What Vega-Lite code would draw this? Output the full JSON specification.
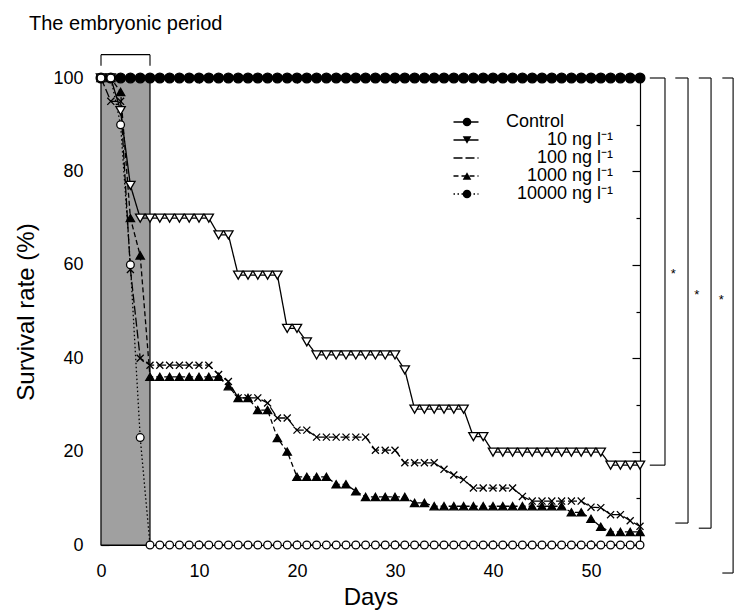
{
"$schema": "https://vega.github.io/schema/vega-lite/v6.json",
"width": 539, "height": 467,
"autosize": {"type": "none"},
"padding": {"left": 101, "top": 78, "right": 98, "bottom": 71},
"background": "white",
"title": {"text": "The embryonic period", "anchor": "start", "frame": "group", "dx": -72, "offset": 20, "fontSize": 20, "font": "Liberation Sans", "fontWeight": "normal", "color": "black"},
"config": {
  "view": {"stroke": null},
  "font": "Liberation Sans",
  "axis": {"grid": false, "domainColor": "black", "tickColor": "black", "labelColor": "black", "titleColor": "black", "labelFont": "Liberation Sans", "titleFont": "Liberation Sans", "titleFontWeight": "normal", "domainWidth": 1.2, "tickWidth": 1.2, "labelFlush": false},
  "legend": {"padding": 0, "rowPadding": 0, "labelFont": "Liberation Sans", "labelFontSize": 18, "labelColor": "black", "symbolOpacity": 1}
},
"datasets": {
"survival": [
{"day":0,"pct":100,"series":"Control"},{"day":1,"pct":100,"series":"Control"},{"day":2,"pct":100,"series":"Control"},{"day":3,"pct":100,"series":"Control"},{"day":4,"pct":100,"series":"Control"},{"day":5,"pct":100,"series":"Control"},{"day":6,"pct":100,"series":"Control"},{"day":7,"pct":100,"series":"Control"},{"day":8,"pct":100,"series":"Control"},{"day":9,"pct":100,"series":"Control"},{"day":10,"pct":100,"series":"Control"},{"day":11,"pct":100,"series":"Control"},{"day":12,"pct":100,"series":"Control"},{"day":13,"pct":100,"series":"Control"},{"day":14,"pct":100,"series":"Control"},{"day":15,"pct":100,"series":"Control"},{"day":16,"pct":100,"series":"Control"},{"day":17,"pct":100,"series":"Control"},{"day":18,"pct":100,"series":"Control"},{"day":19,"pct":100,"series":"Control"},{"day":20,"pct":100,"series":"Control"},{"day":21,"pct":100,"series":"Control"},{"day":22,"pct":100,"series":"Control"},{"day":23,"pct":100,"series":"Control"},{"day":24,"pct":100,"series":"Control"},{"day":25,"pct":100,"series":"Control"},{"day":26,"pct":100,"series":"Control"},{"day":27,"pct":100,"series":"Control"},{"day":28,"pct":100,"series":"Control"},{"day":29,"pct":100,"series":"Control"},{"day":30,"pct":100,"series":"Control"},{"day":31,"pct":100,"series":"Control"},{"day":32,"pct":100,"series":"Control"},{"day":33,"pct":100,"series":"Control"},{"day":34,"pct":100,"series":"Control"},{"day":35,"pct":100,"series":"Control"},{"day":36,"pct":100,"series":"Control"},{"day":37,"pct":100,"series":"Control"},{"day":38,"pct":100,"series":"Control"},{"day":39,"pct":100,"series":"Control"},{"day":40,"pct":100,"series":"Control"},{"day":41,"pct":100,"series":"Control"},{"day":42,"pct":100,"series":"Control"},{"day":43,"pct":100,"series":"Control"},{"day":44,"pct":100,"series":"Control"},{"day":45,"pct":100,"series":"Control"},{"day":46,"pct":100,"series":"Control"},{"day":47,"pct":100,"series":"Control"},{"day":48,"pct":100,"series":"Control"},{"day":49,"pct":100,"series":"Control"},{"day":50,"pct":100,"series":"Control"},{"day":51,"pct":100,"series":"Control"},{"day":52,"pct":100,"series":"Control"},{"day":53,"pct":100,"series":"Control"},{"day":54,"pct":100,"series":"Control"},{"day":55,"pct":100,"series":"Control"},
{"day":0,"pct":100,"series":"10 ng l⁻¹"},{"day":1,"pct":100,"series":"10 ng l⁻¹"},{"day":2,"pct":93,"series":"10 ng l⁻¹"},{"day":3,"pct":77,"series":"10 ng l⁻¹"},{"day":4,"pct":70,"series":"10 ng l⁻¹"},{"day":5,"pct":70,"series":"10 ng l⁻¹"},{"day":6,"pct":70,"series":"10 ng l⁻¹"},{"day":7,"pct":70,"series":"10 ng l⁻¹"},{"day":8,"pct":70,"series":"10 ng l⁻¹"},{"day":9,"pct":70,"series":"10 ng l⁻¹"},{"day":10,"pct":70,"series":"10 ng l⁻¹"},{"day":11,"pct":70,"series":"10 ng l⁻¹"},{"day":12,"pct":66.4,"series":"10 ng l⁻¹"},{"day":13,"pct":66.4,"series":"10 ng l⁻¹"},{"day":14,"pct":57.8,"series":"10 ng l⁻¹"},{"day":15,"pct":57.8,"series":"10 ng l⁻¹"},{"day":16,"pct":57.8,"series":"10 ng l⁻¹"},{"day":17,"pct":57.8,"series":"10 ng l⁻¹"},{"day":18,"pct":57.8,"series":"10 ng l⁻¹"},{"day":19,"pct":46.4,"series":"10 ng l⁻¹"},{"day":20,"pct":46.4,"series":"10 ng l⁻¹"},{"day":21,"pct":43.5,"series":"10 ng l⁻¹"},{"day":22,"pct":40.7,"series":"10 ng l⁻¹"},{"day":23,"pct":40.7,"series":"10 ng l⁻¹"},{"day":24,"pct":40.7,"series":"10 ng l⁻¹"},{"day":25,"pct":40.7,"series":"10 ng l⁻¹"},{"day":26,"pct":40.7,"series":"10 ng l⁻¹"},{"day":27,"pct":40.7,"series":"10 ng l⁻¹"},{"day":28,"pct":40.7,"series":"10 ng l⁻¹"},{"day":29,"pct":40.7,"series":"10 ng l⁻¹"},{"day":30,"pct":40.7,"series":"10 ng l⁻¹"},{"day":31,"pct":37.5,"series":"10 ng l⁻¹"},{"day":32,"pct":29.1,"series":"10 ng l⁻¹"},{"day":33,"pct":29.1,"series":"10 ng l⁻¹"},{"day":34,"pct":29.1,"series":"10 ng l⁻¹"},{"day":35,"pct":29.1,"series":"10 ng l⁻¹"},{"day":36,"pct":29.1,"series":"10 ng l⁻¹"},{"day":37,"pct":29.1,"series":"10 ng l⁻¹"},{"day":38,"pct":23.2,"series":"10 ng l⁻¹"},{"day":39,"pct":23.2,"series":"10 ng l⁻¹"},{"day":40,"pct":19.9,"series":"10 ng l⁻¹"},{"day":41,"pct":19.9,"series":"10 ng l⁻¹"},{"day":42,"pct":19.9,"series":"10 ng l⁻¹"},{"day":43,"pct":19.9,"series":"10 ng l⁻¹"},{"day":44,"pct":19.9,"series":"10 ng l⁻¹"},{"day":45,"pct":19.9,"series":"10 ng l⁻¹"},{"day":46,"pct":19.9,"series":"10 ng l⁻¹"},{"day":47,"pct":19.9,"series":"10 ng l⁻¹"},{"day":48,"pct":19.9,"series":"10 ng l⁻¹"},{"day":49,"pct":19.9,"series":"10 ng l⁻¹"},{"day":50,"pct":19.9,"series":"10 ng l⁻¹"},{"day":51,"pct":19.9,"series":"10 ng l⁻¹"},{"day":52,"pct":17.1,"series":"10 ng l⁻¹"},{"day":53,"pct":17.1,"series":"10 ng l⁻¹"},{"day":54,"pct":17.1,"series":"10 ng l⁻¹"},{"day":55,"pct":17.1,"series":"10 ng l⁻¹"},
{"day":0,"pct":100,"series":"100 ng l⁻¹"},{"day":1,"pct":95,"series":"100 ng l⁻¹"},{"day":2,"pct":95,"series":"100 ng l⁻¹"},{"day":3,"pct":59,"series":"100 ng l⁻¹"},{"day":4,"pct":40,"series":"100 ng l⁻¹"},{"day":5,"pct":38.5,"series":"100 ng l⁻¹"},{"day":6,"pct":38.5,"series":"100 ng l⁻¹"},{"day":7,"pct":38.5,"series":"100 ng l⁻¹"},{"day":8,"pct":38.5,"series":"100 ng l⁻¹"},{"day":9,"pct":38.5,"series":"100 ng l⁻¹"},{"day":10,"pct":38.5,"series":"100 ng l⁻¹"},{"day":11,"pct":38.5,"series":"100 ng l⁻¹"},{"day":12,"pct":36.5,"series":"100 ng l⁻¹"},{"day":13,"pct":35,"series":"100 ng l⁻¹"},{"day":14,"pct":31.5,"series":"100 ng l⁻¹"},{"day":15,"pct":31.5,"series":"100 ng l⁻¹"},{"day":16,"pct":31.5,"series":"100 ng l⁻¹"},{"day":17,"pct":30.4,"series":"100 ng l⁻¹"},{"day":18,"pct":27.2,"series":"100 ng l⁻¹"},{"day":19,"pct":27.2,"series":"100 ng l⁻¹"},{"day":20,"pct":24.6,"series":"100 ng l⁻¹"},{"day":21,"pct":24.6,"series":"100 ng l⁻¹"},{"day":22,"pct":23.1,"series":"100 ng l⁻¹"},{"day":23,"pct":23.1,"series":"100 ng l⁻¹"},{"day":24,"pct":23.1,"series":"100 ng l⁻¹"},{"day":25,"pct":23.1,"series":"100 ng l⁻¹"},{"day":26,"pct":23.1,"series":"100 ng l⁻¹"},{"day":27,"pct":23.1,"series":"100 ng l⁻¹"},{"day":28,"pct":20.3,"series":"100 ng l⁻¹"},{"day":29,"pct":20.3,"series":"100 ng l⁻¹"},{"day":30,"pct":20.3,"series":"100 ng l⁻¹"},{"day":31,"pct":17.6,"series":"100 ng l⁻¹"},{"day":32,"pct":17.6,"series":"100 ng l⁻¹"},{"day":33,"pct":17.6,"series":"100 ng l⁻¹"},{"day":34,"pct":17.6,"series":"100 ng l⁻¹"},{"day":35,"pct":16.2,"series":"100 ng l⁻¹"},{"day":36,"pct":15,"series":"100 ng l⁻¹"},{"day":37,"pct":14,"series":"100 ng l⁻¹"},{"day":38,"pct":12.2,"series":"100 ng l⁻¹"},{"day":39,"pct":12.2,"series":"100 ng l⁻¹"},{"day":40,"pct":12.2,"series":"100 ng l⁻¹"},{"day":41,"pct":12.2,"series":"100 ng l⁻¹"},{"day":42,"pct":12.2,"series":"100 ng l⁻¹"},{"day":43,"pct":10.4,"series":"100 ng l⁻¹"},{"day":44,"pct":9.4,"series":"100 ng l⁻¹"},{"day":45,"pct":9.4,"series":"100 ng l⁻¹"},{"day":46,"pct":9.4,"series":"100 ng l⁻¹"},{"day":47,"pct":9.4,"series":"100 ng l⁻¹"},{"day":48,"pct":9.4,"series":"100 ng l⁻¹"},{"day":49,"pct":9.4,"series":"100 ng l⁻¹"},{"day":50,"pct":8.1,"series":"100 ng l⁻¹"},{"day":51,"pct":8,"series":"100 ng l⁻¹"},{"day":52,"pct":6.5,"series":"100 ng l⁻¹"},{"day":53,"pct":6.5,"series":"100 ng l⁻¹"},{"day":54,"pct":5.2,"series":"100 ng l⁻¹"},{"day":55,"pct":4,"series":"100 ng l⁻¹"},
{"day":0,"pct":100,"series":"1000 ng l⁻¹"},{"day":1,"pct":100,"series":"1000 ng l⁻¹"},{"day":2,"pct":97,"series":"1000 ng l⁻¹"},{"day":3,"pct":70,"series":"1000 ng l⁻¹"},{"day":4,"pct":62,"series":"1000 ng l⁻¹"},{"day":5,"pct":36,"series":"1000 ng l⁻¹"},{"day":6,"pct":36,"series":"1000 ng l⁻¹"},{"day":7,"pct":36,"series":"1000 ng l⁻¹"},{"day":8,"pct":36,"series":"1000 ng l⁻¹"},{"day":9,"pct":36,"series":"1000 ng l⁻¹"},{"day":10,"pct":36,"series":"1000 ng l⁻¹"},{"day":11,"pct":36,"series":"1000 ng l⁻¹"},{"day":12,"pct":36,"series":"1000 ng l⁻¹"},{"day":13,"pct":34,"series":"1000 ng l⁻¹"},{"day":14,"pct":31.5,"series":"1000 ng l⁻¹"},{"day":15,"pct":31.5,"series":"1000 ng l⁻¹"},{"day":16,"pct":28.9,"series":"1000 ng l⁻¹"},{"day":17,"pct":28.9,"series":"1000 ng l⁻¹"},{"day":18,"pct":22.9,"series":"1000 ng l⁻¹"},{"day":19,"pct":20,"series":"1000 ng l⁻¹"},{"day":20,"pct":14.6,"series":"1000 ng l⁻¹"},{"day":21,"pct":14.6,"series":"1000 ng l⁻¹"},{"day":22,"pct":14.6,"series":"1000 ng l⁻¹"},{"day":23,"pct":14.6,"series":"1000 ng l⁻¹"},{"day":24,"pct":13,"series":"1000 ng l⁻¹"},{"day":25,"pct":13,"series":"1000 ng l⁻¹"},{"day":26,"pct":11.5,"series":"1000 ng l⁻¹"},{"day":27,"pct":10.3,"series":"1000 ng l⁻¹"},{"day":28,"pct":10.3,"series":"1000 ng l⁻¹"},{"day":29,"pct":10.3,"series":"1000 ng l⁻¹"},{"day":30,"pct":10.3,"series":"1000 ng l⁻¹"},{"day":31,"pct":10.3,"series":"1000 ng l⁻¹"},{"day":32,"pct":9,"series":"1000 ng l⁻¹"},{"day":33,"pct":9,"series":"1000 ng l⁻¹"},{"day":34,"pct":8.3,"series":"1000 ng l⁻¹"},{"day":35,"pct":8.3,"series":"1000 ng l⁻¹"},{"day":36,"pct":8.3,"series":"1000 ng l⁻¹"},{"day":37,"pct":8.3,"series":"1000 ng l⁻¹"},{"day":38,"pct":8.3,"series":"1000 ng l⁻¹"},{"day":39,"pct":8.3,"series":"1000 ng l⁻¹"},{"day":40,"pct":8.3,"series":"1000 ng l⁻¹"},{"day":41,"pct":8.3,"series":"1000 ng l⁻¹"},{"day":42,"pct":8.3,"series":"1000 ng l⁻¹"},{"day":43,"pct":8.3,"series":"1000 ng l⁻¹"},{"day":44,"pct":8.3,"series":"1000 ng l⁻¹"},{"day":45,"pct":8.3,"series":"1000 ng l⁻¹"},{"day":46,"pct":8.3,"series":"1000 ng l⁻¹"},{"day":47,"pct":8.3,"series":"1000 ng l⁻¹"},{"day":48,"pct":7,"series":"1000 ng l⁻¹"},{"day":49,"pct":7,"series":"1000 ng l⁻¹"},{"day":50,"pct":5.6,"series":"1000 ng l⁻¹"},{"day":51,"pct":3.9,"series":"1000 ng l⁻¹"},{"day":52,"pct":2.8,"series":"1000 ng l⁻¹"},{"day":53,"pct":2.8,"series":"1000 ng l⁻¹"},{"day":54,"pct":2.8,"series":"1000 ng l⁻¹"},{"day":55,"pct":2.8,"series":"1000 ng l⁻¹"},
{"day":0,"pct":100,"series":"10000 ng l⁻¹"},{"day":1,"pct":100,"series":"10000 ng l⁻¹"},{"day":2,"pct":90,"series":"10000 ng l⁻¹"},{"day":3,"pct":60,"series":"10000 ng l⁻¹"},{"day":4,"pct":23,"series":"10000 ng l⁻¹"},{"day":5,"pct":0,"series":"10000 ng l⁻¹"},{"day":6,"pct":0,"series":"10000 ng l⁻¹"},{"day":7,"pct":0,"series":"10000 ng l⁻¹"},{"day":8,"pct":0,"series":"10000 ng l⁻¹"},{"day":9,"pct":0,"series":"10000 ng l⁻¹"},{"day":10,"pct":0,"series":"10000 ng l⁻¹"},{"day":11,"pct":0,"series":"10000 ng l⁻¹"},{"day":12,"pct":0,"series":"10000 ng l⁻¹"},{"day":13,"pct":0,"series":"10000 ng l⁻¹"},{"day":14,"pct":0,"series":"10000 ng l⁻¹"},{"day":15,"pct":0,"series":"10000 ng l⁻¹"},{"day":16,"pct":0,"series":"10000 ng l⁻¹"},{"day":17,"pct":0,"series":"10000 ng l⁻¹"},{"day":18,"pct":0,"series":"10000 ng l⁻¹"},{"day":19,"pct":0,"series":"10000 ng l⁻¹"},{"day":20,"pct":0,"series":"10000 ng l⁻¹"},{"day":21,"pct":0,"series":"10000 ng l⁻¹"},{"day":22,"pct":0,"series":"10000 ng l⁻¹"},{"day":23,"pct":0,"series":"10000 ng l⁻¹"},{"day":24,"pct":0,"series":"10000 ng l⁻¹"},{"day":25,"pct":0,"series":"10000 ng l⁻¹"},{"day":26,"pct":0,"series":"10000 ng l⁻¹"},{"day":27,"pct":0,"series":"10000 ng l⁻¹"},{"day":28,"pct":0,"series":"10000 ng l⁻¹"},{"day":29,"pct":0,"series":"10000 ng l⁻¹"},{"day":30,"pct":0,"series":"10000 ng l⁻¹"},{"day":31,"pct":0,"series":"10000 ng l⁻¹"},{"day":32,"pct":0,"series":"10000 ng l⁻¹"},{"day":33,"pct":0,"series":"10000 ng l⁻¹"},{"day":34,"pct":0,"series":"10000 ng l⁻¹"},{"day":35,"pct":0,"series":"10000 ng l⁻¹"},{"day":36,"pct":0,"series":"10000 ng l⁻¹"},{"day":37,"pct":0,"series":"10000 ng l⁻¹"},{"day":38,"pct":0,"series":"10000 ng l⁻¹"},{"day":39,"pct":0,"series":"10000 ng l⁻¹"},{"day":40,"pct":0,"series":"10000 ng l⁻¹"},{"day":41,"pct":0,"series":"10000 ng l⁻¹"},{"day":42,"pct":0,"series":"10000 ng l⁻¹"},{"day":43,"pct":0,"series":"10000 ng l⁻¹"},{"day":44,"pct":0,"series":"10000 ng l⁻¹"},{"day":45,"pct":0,"series":"10000 ng l⁻¹"},{"day":46,"pct":0,"series":"10000 ng l⁻¹"},{"day":47,"pct":0,"series":"10000 ng l⁻¹"},{"day":48,"pct":0,"series":"10000 ng l⁻¹"},{"day":49,"pct":0,"series":"10000 ng l⁻¹"},{"day":50,"pct":0,"series":"10000 ng l⁻¹"},{"day":51,"pct":0,"series":"10000 ng l⁻¹"},{"day":52,"pct":0,"series":"10000 ng l⁻¹"},{"day":53,"pct":0,"series":"10000 ng l⁻¹"},{"day":54,"pct":0,"series":"10000 ng l⁻¹"},{"day":55,"pct":0,"series":"10000 ng l⁻¹"}
],
"period": [{"start": 0, "end": 5}],
"brackets": [
{"x":0,"x2":5,"y":105,"y2":105},{"x":0,"x2":0,"y":105,"y2":102.6},{"x":5,"x2":5,"y":105,"y2":102.6},
{"x":56.0,"x2":57.55,"y":100,"y2":100},{"x":57.55,"x2":57.55,"y":100,"y2":17.1},{"x":56.0,"x2":57.55,"y":17.1,"y2":17.1},
{"x":58.6,"x2":59.9,"y":100,"y2":100},{"x":59.9,"x2":59.9,"y":100,"y2":4.7},{"x":58.6,"x2":59.9,"y":4.7,"y2":4.7},
{"x":61.0,"x2":62.25,"y":100,"y2":100},{"x":62.25,"x2":62.25,"y":100,"y2":3.6},{"x":61.0,"x2":62.25,"y":3.6,"y2":3.6},
{"x":63.4,"x2":64.5,"y":100,"y2":100},{"x":64.5,"x2":64.5,"y":100,"y2":-6},{"x":63.4,"x2":64.5,"y":-6,"y2":-6}
],
"stars": [{"x":58.4,"y":58},{"x":60.8,"y":53.5},{"x":63.3,"y":52.5}]
},
"resolve": {"axis": {"x": "independent", "y": "independent"}, "legend": {"shape": "independent", "strokeDash": "independent"}},
"layer": [
{
  "data": {"name": "period"},
  "mark": {"type": "rect", "fill": "#a0a0a0", "stroke": "black", "strokeWidth": 1.2},
  "encoding": {
    "x": {"field": "start", "type": "quantitative", "scale": {"domain": [0, 55], "nice": false, "zero": false},
          "axis": {"orient": "bottom", "values": [0,10,20,30,40,50], "ticks": false, "tickSize": 0, "domain": false, "labelPadding": 17, "labelFontSize": 18, "title": "Days", "titleFontSize": 24, "titlePadding": 5}},
    "x2": {"field": "end"},
    "y": {"datum": 0, "type": "quantitative", "scale": {"domain": [0, 100], "nice": false, "zero": false},
          "axis": {"orient": "left", "values": [0,20,40,60,80,100], "ticks": false, "tickSize": 0, "domain": false, "labelPadding": 18, "labelFontSize": 18, "title": "Survival rate (%)", "titleFontSize": 24, "titlePadding": 14}},
    "y2": {"datum": 100}
  }
},
{
  "data": {"name": "survival"},
  "mark": {"type": "line", "color": "black", "strokeWidth": 1.3},
  "encoding": {
    "x": {"field": "day", "type": "quantitative", "scale": {"domain": [0, 55], "nice": false, "zero": false},
          "axis": {"orient": "bottom", "values": [0,10,20,30,40,50], "tickSize": -5, "labels": false, "title": null, "domain": true}},
    "y": {"field": "pct", "type": "quantitative", "scale": {"domain": [0, 100], "nice": false, "zero": false},
          "axis": {"orient": "left", "values": [0,20,40,60,80,100], "tickSize": -8, "labels": false, "title": null, "domain": true}},
    "strokeDash": {"field": "series", "type": "nominal",
      "scale": {"domain": ["Control", "10 ng l⁻¹", "100 ng l⁻¹", "1000 ng l⁻¹", "10000 ng l⁻¹"], "range": [[1,0],[1,0],[9,3],[5,3],[1.5,2.5]]},
      "legend": {"orient": "none", "legendX": 356, "legendY": 35, "title": null, "symbolType": "M-2.5,0L2.5,0", "symbolSize": 100, "symbolStrokeColor": "black", "symbolFillColor": "transparent", "symbolStrokeWidth": 1.5, "labelAlign": "right", "labelOffset": 138,
        "encode": {"labels": {"update": {"dx": {"signal": "datum.label === 'Control' ? -49 : 0"}}}}}}
  }
},
{
  "data": {"name": "survival"},
  "mark": {"type": "point", "stroke": "black", "strokeWidth": 1.3, "opacity": 1},
  "encoding": {
    "x": {"field": "day", "type": "quantitative", "scale": {"domain": [0, 55], "nice": false, "zero": false},
          "axis": {"orient": "top", "values": [0,10,20,30,40,50], "tickSize": -5, "labels": false, "title": null, "domain": true}},
    "y": {"field": "pct", "type": "quantitative", "scale": {"domain": [0, 100], "nice": false, "zero": false},
          "axis": {"orient": "right", "values": [0,20,40,60,80,100], "tickSize": -8, "labels": false, "title": null, "domain": true}},
    "shape": {"field": "series", "type": "nominal", "sort": null,
      "scale": {"range": ["circle", "triangle-down", "M-0.8,-0.8L0.8,0.8M-0.8,0.8L0.8,-0.8", "triangle-up", "circle"]},
      "legend": {"orient": "none", "legendX": 357, "legendY": 35, "title": null, "labelColor": "transparent", "symbolSize": 75, "symbolStrokeColor": "black", "symbolStrokeWidth": 1.3,
        "encode": {"symbols": {"update": {"fill": {"signal": "datum.label === 'Control' || datum.label === '1000 ng l⁻¹' ? 'black' : (datum.label === '100 ng l⁻¹' ? 'transparent' : 'white')"}, "stroke": {"value": "black"}}}}}},
    "fill": {"field": "series", "type": "nominal", "sort": null,
      "scale": {"range": ["black", "white", "transparent", "black", "white"]}},
    "size": {"field": "series", "type": "nominal", "sort": null,
      "scale": {"range": [95, 60, 60, 55, 85]}, "legend": null}
  }
},
{
  "data": {"name": "brackets"},
  "mark": {"type": "rule", "color": "black", "strokeWidth": 1.1, "clip": false},
  "encoding": {
    "x": {"field": "x", "type": "quantitative", "scale": {"domain": [0, 55], "nice": false, "zero": false}, "axis": null},
    "x2": {"field": "x2"},
    "y": {"field": "y", "type": "quantitative", "scale": {"domain": [0, 100], "nice": false, "zero": false},
          "axis": {"orient": "left", "values": [10,30,50,70,90], "tickSize": -4, "labels": false, "title": null, "domain": false}},
    "y2": {"field": "y2"}
  }
},
{
  "data": {"name": "stars"},
  "mark": {"type": "text", "text": "*", "fontSize": 13, "color": "black", "font": "Liberation Sans", "baseline": "middle", "clip": false},
  "encoding": {
    "x": {"field": "x", "type": "quantitative", "scale": {"domain": [0, 55], "nice": false, "zero": false}, "axis": null},
    "y": {"field": "y", "type": "quantitative", "scale": {"domain": [0, 100], "nice": false, "zero": false},
          "axis": {"orient": "right", "values": [10,30,50,70,90], "tickSize": -4, "labels": false, "title": null, "domain": false}}
  }
}
]
}
